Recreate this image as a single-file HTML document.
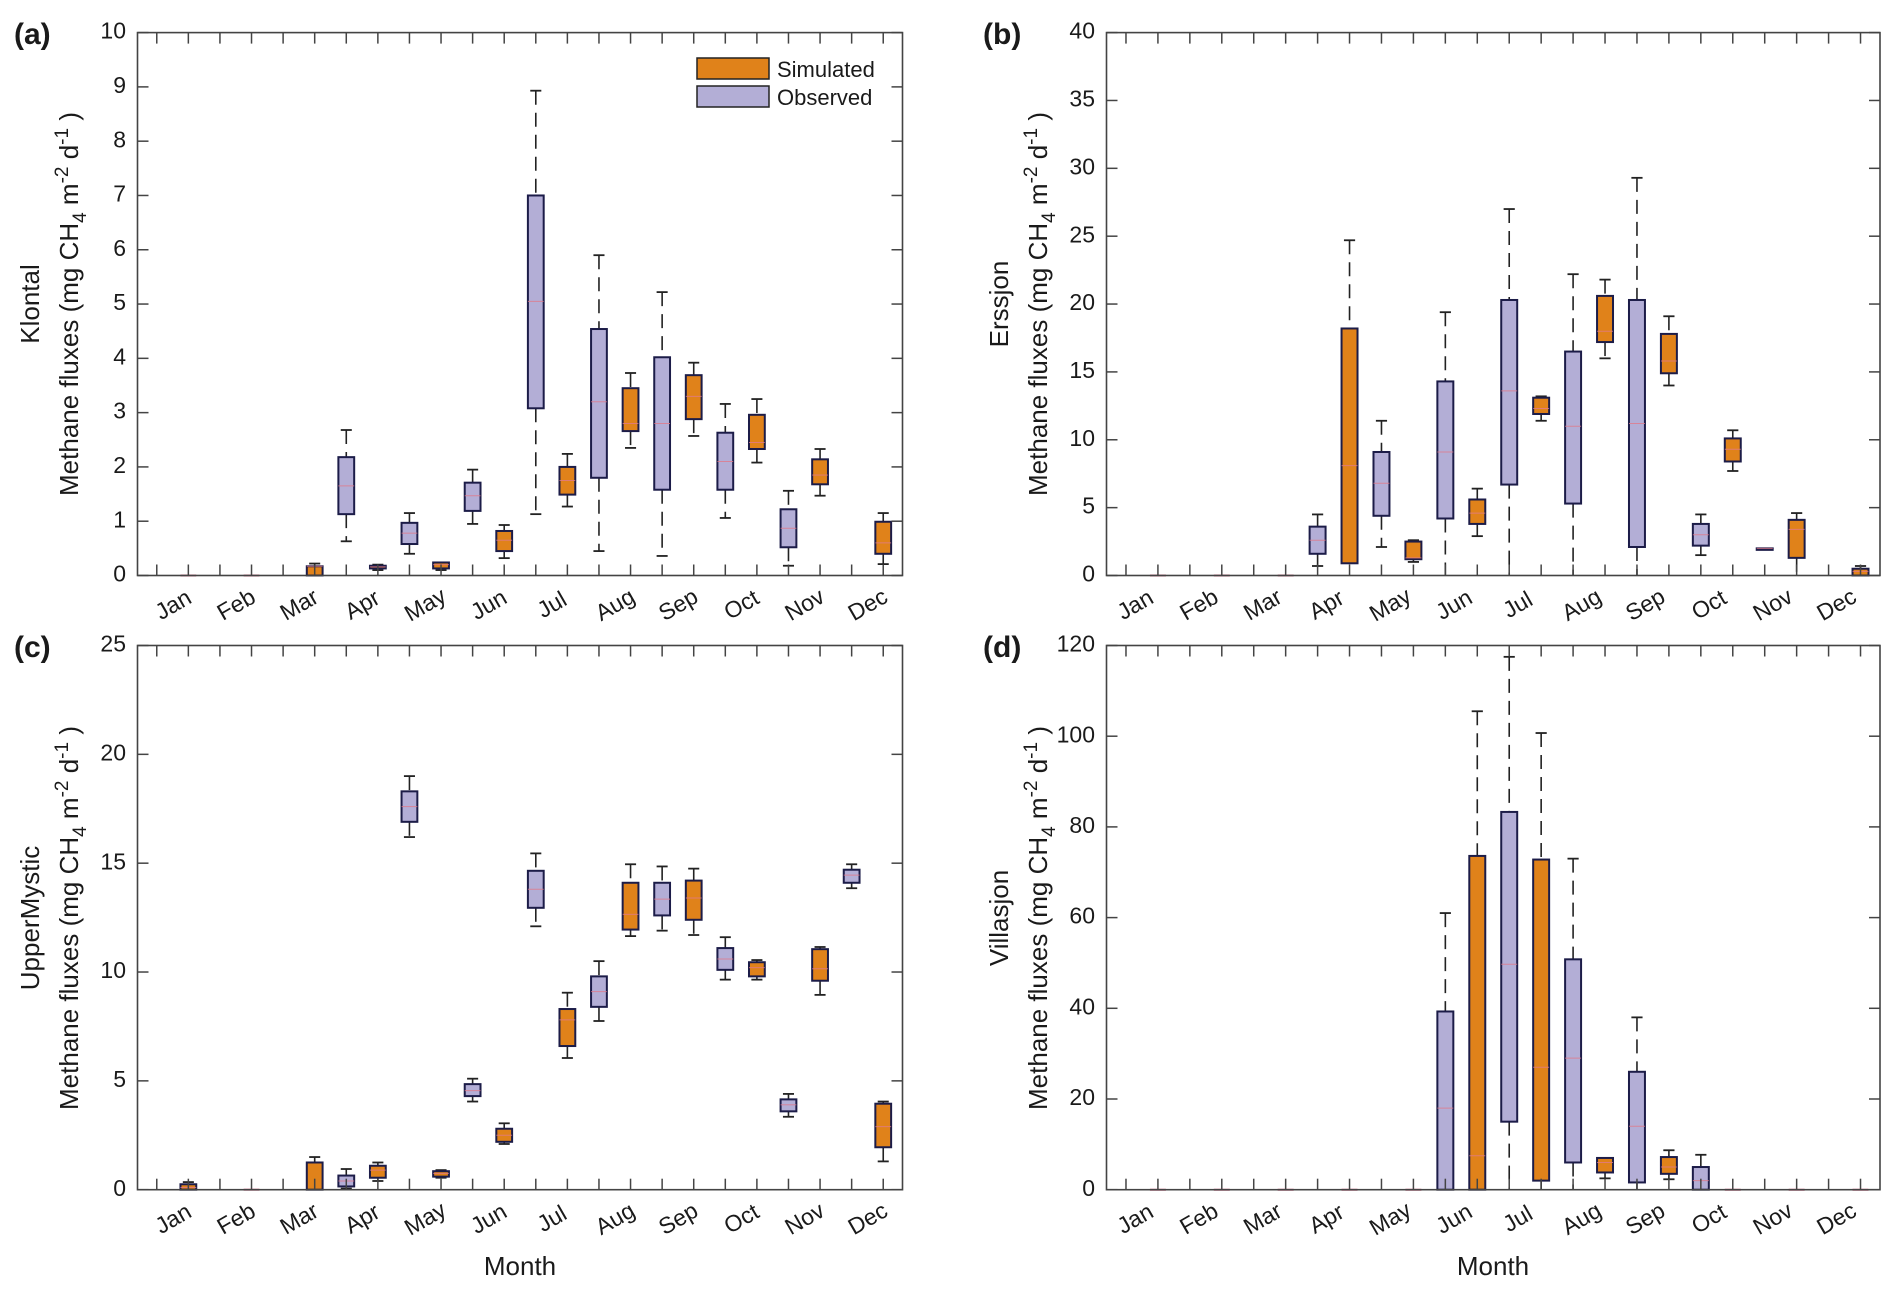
<!DOCTYPE html>
<html><head><meta charset="utf-8"><style>
html,body{margin:0;padding:0;background:#fff}
svg{display:block}
text{font-family:"Liberation Sans",sans-serif;fill:#1a1a1a}
.tk{font-size:23px;text-anchor:end;dominant-baseline:middle}
.mo{font-size:23px;text-anchor:middle;dominant-baseline:middle}
.yl{font-size:26px;text-anchor:middle}
.pl{font-size:30px;font-weight:bold}
</style></head><body>
<svg id="s" width="1892" height="1293" viewBox="0 0 1892 1293" xmlns="http://www.w3.org/2000/svg">
<g id="g"></g>
<text class="pl" x="14" y="44">(a)</text>
<text class="pl" x="983" y="44">(b)</text>
<text class="pl" x="14" y="657">(c)</text>
<text class="pl" x="983" y="657">(d)</text>
<g>
<text class="tk" x="126" y="575.5">0</text><text class="tk" x="126" y="521.2">1</text><text class="tk" x="126" y="466.9">2</text><text class="tk" x="126" y="412.6">3</text><text class="tk" x="126" y="358.3">4</text><text class="tk" x="126" y="304">5</text><text class="tk" x="126" y="249.8">6</text><text class="tk" x="126" y="195.5">7</text><text class="tk" x="126" y="141.2">8</text><text class="tk" x="126" y="86.9">9</text><text class="tk" x="126" y="32.6">10</text>
<text class="tk" x="1095" y="575.5">0</text><text class="tk" x="1095" y="507.6">5</text><text class="tk" x="1095" y="439.8">10</text><text class="tk" x="1095" y="371.9">15</text><text class="tk" x="1095" y="304">20</text><text class="tk" x="1095" y="236.2">25</text><text class="tk" x="1095" y="168.3">30</text><text class="tk" x="1095" y="100.5">35</text><text class="tk" x="1095" y="32.6">40</text>
<text class="tk" x="126" y="1189.7">0</text><text class="tk" x="126" y="1080.9">5</text><text class="tk" x="126" y="972">10</text><text class="tk" x="126" y="863.2">15</text><text class="tk" x="126" y="754.4">20</text><text class="tk" x="126" y="645.5">25</text>
<text class="tk" x="1095" y="1189.7">0</text><text class="tk" x="1095" y="1099">20</text><text class="tk" x="1095" y="1008.3">40</text><text class="tk" x="1095" y="917.6">60</text><text class="tk" x="1095" y="826.9">80</text><text class="tk" x="1095" y="736.2">100</text><text class="tk" x="1095" y="645.5">120</text>
</g>
<g>
<text class="mo" transform="translate(174,606) rotate(-30)">Jan</text><text class="mo" transform="translate(237,606) rotate(-30)">Feb</text><text class="mo" transform="translate(300,606) rotate(-30)">Mar</text><text class="mo" transform="translate(363,606) rotate(-30)">Apr</text><text class="mo" transform="translate(426,606) rotate(-30)">May</text><text class="mo" transform="translate(489.5,606) rotate(-30)">Jun</text><text class="mo" transform="translate(552.7,606) rotate(-30)">Jul</text><text class="mo" transform="translate(615.8,606) rotate(-30)">Aug</text><text class="mo" transform="translate(679,606) rotate(-30)">Sep</text><text class="mo" transform="translate(742.2,606) rotate(-30)">Oct</text><text class="mo" transform="translate(805.4,606) rotate(-30)">Nov</text><text class="mo" transform="translate(868.6,606) rotate(-30)">Dec</text>
<text class="mo" transform="translate(1136,606) rotate(-30)">Jan</text><text class="mo" transform="translate(1199.7,606) rotate(-30)">Feb</text><text class="mo" transform="translate(1263.5,606) rotate(-30)">Mar</text><text class="mo" transform="translate(1327.2,606) rotate(-30)">Apr</text><text class="mo" transform="translate(1391,606) rotate(-30)">May</text><text class="mo" transform="translate(1454.8,606) rotate(-30)">Jun</text><text class="mo" transform="translate(1518.5,606) rotate(-30)">Jul</text><text class="mo" transform="translate(1582.3,606) rotate(-30)">Aug</text><text class="mo" transform="translate(1646,606) rotate(-30)">Sep</text><text class="mo" transform="translate(1709.8,606) rotate(-30)">Oct</text><text class="mo" transform="translate(1773.6,606) rotate(-30)">Nov</text><text class="mo" transform="translate(1837.3,606) rotate(-30)">Dec</text>
<text class="mo" transform="translate(174,1220) rotate(-30)">Jan</text><text class="mo" transform="translate(237,1220) rotate(-30)">Feb</text><text class="mo" transform="translate(300,1220) rotate(-30)">Mar</text><text class="mo" transform="translate(363,1220) rotate(-30)">Apr</text><text class="mo" transform="translate(426,1220) rotate(-30)">May</text><text class="mo" transform="translate(489.5,1220) rotate(-30)">Jun</text><text class="mo" transform="translate(552.7,1220) rotate(-30)">Jul</text><text class="mo" transform="translate(615.8,1220) rotate(-30)">Aug</text><text class="mo" transform="translate(679,1220) rotate(-30)">Sep</text><text class="mo" transform="translate(742.2,1220) rotate(-30)">Oct</text><text class="mo" transform="translate(805.4,1220) rotate(-30)">Nov</text><text class="mo" transform="translate(868.6,1220) rotate(-30)">Dec</text>
<text class="mo" transform="translate(1136,1220) rotate(-30)">Jan</text><text class="mo" transform="translate(1199.7,1220) rotate(-30)">Feb</text><text class="mo" transform="translate(1263.5,1220) rotate(-30)">Mar</text><text class="mo" transform="translate(1327.2,1220) rotate(-30)">Apr</text><text class="mo" transform="translate(1391,1220) rotate(-30)">May</text><text class="mo" transform="translate(1454.8,1220) rotate(-30)">Jun</text><text class="mo" transform="translate(1518.5,1220) rotate(-30)">Jul</text><text class="mo" transform="translate(1582.3,1220) rotate(-30)">Aug</text><text class="mo" transform="translate(1646,1220) rotate(-30)">Sep</text><text class="mo" transform="translate(1709.8,1220) rotate(-30)">Oct</text><text class="mo" transform="translate(1773.6,1220) rotate(-30)">Nov</text><text class="mo" transform="translate(1837.3,1220) rotate(-30)">Dec</text>
</g>
<text class="yl" x="520" y="1275">Month</text>
<text class="yl" x="1493" y="1275">Month</text>
<text class="yl" transform="translate(39,304) rotate(-90)">Klontal</text>
<text class="yl" transform="translate(78,304) rotate(-90)">Methane fluxes (mg CH<tspan dy="8" font-size="19">4</tspan><tspan dy="-8"> m</tspan><tspan dy="-10" font-size="19">-2</tspan><tspan dy="10"> d</tspan><tspan dy="-10" font-size="19">-1</tspan><tspan dy="10"> )</tspan></text>
<text class="yl" transform="translate(1008,304) rotate(-90)">Erssjon</text>
<text class="yl" transform="translate(1047,304) rotate(-90)">Methane fluxes (mg CH<tspan dy="8" font-size="19">4</tspan><tspan dy="-8"> m</tspan><tspan dy="-10" font-size="19">-2</tspan><tspan dy="10"> d</tspan><tspan dy="-10" font-size="19">-1</tspan><tspan dy="10"> )</tspan></text>
<text class="yl" transform="translate(39,918) rotate(-90)">UpperMystic</text>
<text class="yl" transform="translate(78,918) rotate(-90)">Methane fluxes (mg CH<tspan dy="8" font-size="19">4</tspan><tspan dy="-8"> m</tspan><tspan dy="-10" font-size="19">-2</tspan><tspan dy="10"> d</tspan><tspan dy="-10" font-size="19">-1</tspan><tspan dy="10"> )</tspan></text>
<text class="yl" transform="translate(1008,918) rotate(-90)">Villasjon</text>
<text class="yl" transform="translate(1047,918) rotate(-90)">Methane fluxes (mg CH<tspan dy="8" font-size="19">4</tspan><tspan dy="-8"> m</tspan><tspan dy="-10" font-size="19">-2</tspan><tspan dy="10"> d</tspan><tspan dy="-10" font-size="19">-1</tspan><tspan dy="10"> )</tspan></text>
<rect x="697" y="58" width="72" height="21" fill="#E0821A" stroke="#222" stroke-width="1.5"/>
<rect x="697" y="86" width="72" height="21" fill="#B3AED6" stroke="#222" stroke-width="1.5"/>
<text x="777" y="77" style="font-size:22px">Simulated</text>
<text x="777" y="105" style="font-size:22px">Observed</text>
</svg>
<script>
var NS="http://www.w3.org/2000/svg",g=document.getElementById('g');
function el(n,a){var e=document.createElementNS(NS,n);for(var k in a)e.setAttribute(k,a[k]);g.appendChild(e);return e;}
var P=[
 {L:137.5,R:902.5,T:32.6,B:575.5,max:10,step:1,
  d:[[2,0,0,0,0,0],[4,0,0,0,0,0],[6,0,0,0.17,0.17,0.22],[7,0.63,1.13,1.65,2.18,2.68],[8,0.1,0.13,0.16,0.18,0.2],[9,0.4,0.58,0.78,0.97,1.15],[10,0.1,0.13,0.2,0.24,0.24],[11,0.95,1.19,1.47,1.71,1.95],[12,0.32,0.45,0.65,0.82,0.93],[13,1.13,3.08,5.05,7.0,8.93],[14,1.27,1.49,1.75,2.0,2.24],[15,0.45,1.8,3.2,4.54,5.9],[16,2.35,2.66,2.8,3.45,3.73],[17,0.36,1.58,2.8,4.02,5.22],[18,2.57,2.88,3.3,3.69,3.92],[19,1.06,1.58,2.1,2.63,3.16],[20,2.08,2.33,2.45,2.96,3.25],[21,0.18,0.52,0.87,1.22,1.56],[22,1.47,1.68,1.85,2.14,2.33],[24,0.21,0.4,0.6,0.99,1.15]]},
 {L:1106.5,R:1880,T:32.6,B:575.5,max:40,step:5,
  d:[[2,0,0,0,0,0],[4,0,0,0,0,0],[6,0,0,0,0,0],[7,0.7,1.6,2.6,3.6,4.5],[8,0.9,0.9,8.1,18.2,24.7],[9,2.1,4.4,6.8,9.1,11.4],[10,1.0,1.2,1.3,2.5,2.6],[11,0,4.2,9.1,14.3,19.4],[12,2.9,3.8,4.6,5.6,6.4],[13,0,6.7,13.6,20.3,27],[14,11.4,11.9,12.3,13.1,13.2],[15,0,5.3,11,16.5,22.2],[16,16,17.2,18,20.6,21.8],[17,0,2.1,11.2,20.3,29.3],[18,14,14.9,15.8,17.8,19.1],[19,1.5,2.2,3,3.8,4.5],[20,7.7,8.4,9.3,10.1,10.7],[21,2,2,2,2,2],[22,0,1.3,3.4,4.1,4.6],[24,0,0,0.3,0.5,0.7]]},
 {L:137.5,R:902.5,T:645.5,B:1189.7,max:25,step:5,
  d:[[2,0,0,0.1,0.25,0.35],[4,0,0,0,0,0],[6,0,0,0,1.25,1.5],[7,0.05,0.15,0.4,0.65,0.95],[8,0.4,0.55,0.9,1.1,1.25],[9,16.2,16.9,17.6,18.3,19],[10,0.55,0.6,0.75,0.85,0.9],[11,4.05,4.3,4.55,4.85,5.1],[12,2.1,2.2,2.5,2.8,3.05],[13,12.1,12.95,13.8,14.65,15.45],[14,6.05,6.6,7.8,8.3,9.05],[15,7.75,8.4,9.1,9.8,10.5],[16,11.65,11.95,12.65,14.1,14.95],[17,11.9,12.6,13.35,14.1,14.85],[18,11.7,12.4,13.4,14.2,14.75],[19,9.65,10.1,10.6,11.1,11.6],[20,9.65,9.8,10.2,10.45,10.55],[21,3.35,3.6,3.9,4.15,4.4],[22,8.95,9.6,10.15,11.05,11.15],[23,13.85,14.1,14.45,14.7,14.95],[24,1.3,1.95,2.9,3.95,4.05]]},
 {L:1106.5,R:1880,T:645.5,B:1189.7,max:120,step:20,
  d:[[2,0,0,0,0,0],[4,0,0,0,0,0],[6,0,0,0,0,0],[8,0,0,0,0,0],[10,0,0,0,0,0],[11,0,0,18,39.3,61],[12,0,0,7.5,73.6,105.5],[13,0,15,49.7,83.3,117.5],[14,0,2,27,72.8,100.7],[15,0,6,29,50.8,73],[16,2.5,3.8,6,7,7],[17,0,1.6,14,26,38],[18,2.3,3.5,5,7.2,8.7],[19,0,0,2,5,7.7],[20,0,0,0,0,0],[22,0,0,0,0,0],[24,0,0,0,0,0]]}
];
P.forEach(function(p){
 var W=p.R-p.L,H=p.B-p.T;
 function X(v){return p.L+(v-0.39)/24.22*W;}
 function Y(v){return p.B-v/p.max*H;}
 var bw=0.5*W/24.22;
 p.d.forEach(function(r){
  var x=X(r[0]),sim=r[0]%2==0,fill=sim?'#E0821A':'#B3AED6';
  if(r[5]-r[1]<=0.0001&&r[3]==0&&r[4]==0){el('line',{x1:x-bw/2,x2:x+bw/2,y1:Y(0),y2:Y(0),stroke:'#d05a7a','stroke-width':2});return;}
  var cw=bw*0.35;
  if(r[5]>r[4]){el('line',{x1:x,x2:x,y1:Y(r[5]),y2:Y(r[4]),stroke:'#222','stroke-width':1.6,'stroke-dasharray':'14 8'});
   el('line',{x1:x-cw,x2:x+cw,y1:Y(r[5]),y2:Y(r[5]),stroke:'#222','stroke-width':1.8});}
  if(r[2]>r[1]){el('line',{x1:x,x2:x,y1:Y(r[2]),y2:Y(r[1]),stroke:'#222','stroke-width':1.6,'stroke-dasharray':'14 8'});
   if(r[1]>0)el('line',{x1:x-cw,x2:x+cw,y1:Y(r[1]),y2:Y(r[1]),stroke:'#222','stroke-width':1.8});}
  var h=Math.max(Y(r[2])-Y(r[4]),1.5);
  el('rect',{x:x-bw/2,y:Y(r[4]),width:bw,height:h,fill:fill,stroke:'#1c1c48','stroke-width':2});
  el('line',{x1:x-bw/2,x2:x+bw/2,y1:Y(r[3]),y2:Y(r[3]),stroke:'#e07a8a','stroke-width':1,opacity:0.8});
 });
 el('rect',{x:p.L,y:p.T,width:W,height:H,fill:'none',stroke:'#444','stroke-width':1.6});
 for(var i=1;i<=24;i++){var x=X(i);
  el('line',{x1:x,x2:x,y1:p.B,y2:p.B-11,stroke:'#444','stroke-width':1.5});
  el('line',{x1:x,x2:x,y1:p.T,y2:p.T+11,stroke:'#444','stroke-width':1.5});}
 for(var v=0;v<=p.max;v+=p.step){var y=Y(v);
  el('line',{x1:p.L,x2:p.L+11,y1:y,y2:y,stroke:'#444','stroke-width':1.5});
  el('line',{x1:p.R,x2:p.R-11,y1:y,y2:y,stroke:'#444','stroke-width':1.5});}
});
</script>
</body></html>
